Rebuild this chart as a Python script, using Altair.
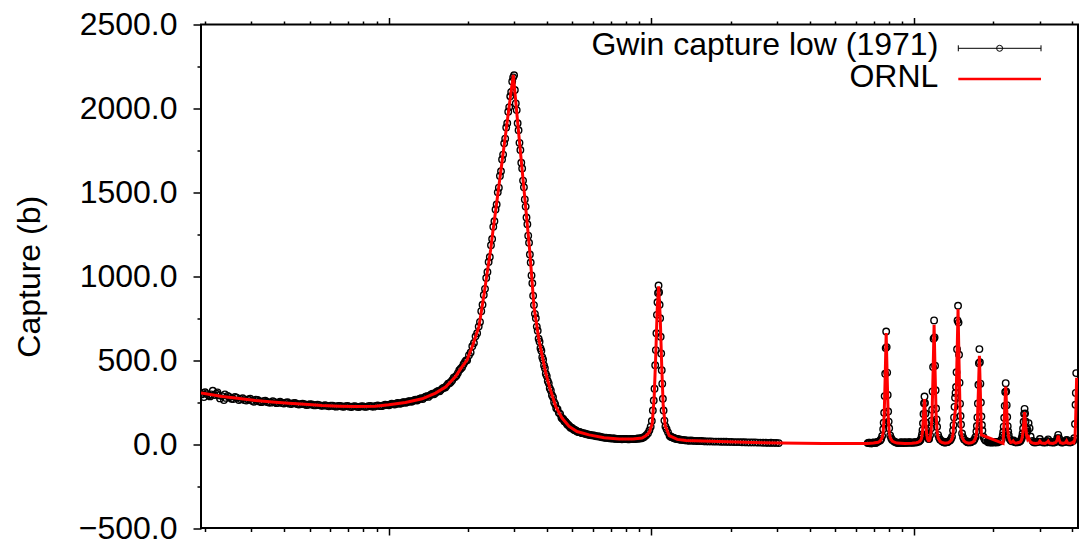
import altair as alt
import pandas as pd

# Gwin (1971) low-energy capture measurement: neutron energy (eV) and capture cross section (b)
gwin_energy = [
    0.0194, 0.0198, 0.0200, 0.0207, 0.0211, 0.0214, 0.0221, 0.0225, 0.0228, 0.0236,
    0.0240, 0.0244, 0.0252, 0.0260, 0.0269, 0.0278, 0.0287, 0.0297, 0.0307, 0.0317,
    0.0328, 0.0339, 0.0350, 0.0362, 0.0374, 0.0386, 0.0399, 0.0412, 0.0426, 0.0440,
    0.0455, 0.0470, 0.0486, 0.0502, 0.0519, 0.0536, 0.0554, 0.0573, 0.0592, 0.0612,
    0.0632, 0.0653, 0.0675, 0.0698, 0.0721, 0.0745, 0.0770, 0.0796, 0.0823, 0.0850,
    0.0879, 0.0908, 0.0938, 0.0970, 0.1002,
    0.1027, 0.1053, 0.1079, 0.1106, 0.1134, 0.1162, 0.1191, 0.1221, 0.1251, 0.1282,
    0.1314, 0.1347, 0.1381, 0.1415, 0.1451, 0.1487, 0.1524, 0.1562, 0.1601, 0.1641,
    0.1682, 0.1724, 0.1767, 0.1811, 0.1856, 0.1902, 0.1950, 0.1988,
    0.2020, 0.2050, 0.2080, 0.2110, 0.2140, 0.2170, 0.2200, 0.2225, 0.2250, 0.2275,
    0.2300, 0.2325, 0.2350, 0.2375, 0.2400, 0.2425, 0.2450, 0.2475, 0.2500, 0.2525,
    0.2550, 0.2575, 0.2600, 0.2625, 0.2650, 0.2675, 0.2700, 0.2725, 0.2750, 0.2775,
    0.2800, 0.2825, 0.2850, 0.2875, 0.2900, 0.2925, 0.2950, 0.2975, 0.3000, 0.3020,
    0.3045, 0.3070, 0.3095, 0.3120, 0.3145, 0.3170, 0.3195, 0.3220, 0.3245, 0.3270,
    0.3295, 0.3320, 0.3345, 0.3370, 0.3395, 0.3420, 0.3445, 0.3470, 0.3495, 0.3520,
    0.3545, 0.3570, 0.3600, 0.3630, 0.3660, 0.3690, 0.3720, 0.3750, 0.3780, 0.3810,
    0.3840, 0.3870, 0.3900, 0.3930, 0.3960, 0.3995, 0.4030, 0.4065, 0.4100, 0.4140,
    0.4180, 0.4220, 0.4260, 0.4300, 0.4340, 0.4390, 0.4440, 0.4490, 0.4540, 0.4600,
    0.4660, 0.4720, 0.4780, 0.4850, 0.4920, 0.5000, 0.5080, 0.5160, 0.5250, 0.5350,
    0.5450, 0.5550, 0.5660, 0.5780, 0.5900, 0.6040, 0.6180, 0.6330, 0.6480, 0.6640,
    0.6800, 0.6970, 0.7150, 0.7330, 0.7520, 0.7720, 0.7920, 0.8130, 0.8340, 0.8560,
    0.8780, 0.9000, 0.9200, 0.9400, 0.9550, 0.9700, 0.9820, 0.9930, 1.0030, 1.0120,
    1.0200, 1.0270, 1.0330, 1.0390, 1.0440, 1.0490, 1.0540, 1.0590, 1.0640, 1.0690,
    1.0740, 1.0790, 1.0840, 1.0890, 1.0940, 1.0990, 1.1050, 1.1120, 1.1200, 1.1300,
    1.1420, 1.1560, 1.1720, 1.1900, 1.2100, 1.2350, 1.2650, 1.3000, 1.3400, 1.3850,
    1.4350, 1.4900, 1.5500, 1.6150, 1.6850, 1.7600, 1.8400, 1.9250, 2.0150, 2.1100,
    2.2100, 2.3150, 2.4250, 2.5400, 2.6600, 2.7850, 2.9150, 3.0500,
    6.65, 6.77, 6.89, 7.01, 7.13, 7.21,
    7.290, 7.419, 7.484, 7.550, 7.617, 7.650, 7.684, 7.718, 7.752, 7.786,
    7.820, 7.854, 7.889, 7.924, 7.958, 7.993, 8.029, 8.100, 8.171, 8.243, 8.389,
    8.55, 8.70, 8.86, 9.02, 9.18, 9.35, 9.52, 9.69, 9.87, 10.05,
    10.198, 10.379, 10.470, 10.563, 10.656, 10.703, 10.750, 10.797, 10.844, 10.892,
    10.940, 10.988, 11.036, 11.085, 11.134, 11.183, 11.232, 11.331,
    11.389, 11.489, 11.591, 11.642, 11.693, 11.744, 11.796, 11.848, 11.900, 11.952,
    12.005, 12.058, 12.111, 12.164, 12.218, 12.325, 12.434, 12.544, 12.766,
    12.95, 13.13, 13.30,
    13.447, 13.684, 13.805, 13.926, 14.049, 14.111, 14.173, 14.236, 14.298, 14.361,
    14.424, 14.488, 14.552, 14.616, 14.680, 14.745, 14.810, 14.875, 14.940, 15.006,
    15.072, 15.205, 15.339, 15.474, 15.748,
    15.94, 16.12, 16.31,
    16.500, 16.792, 16.940, 17.089, 17.240, 17.316, 17.392, 17.468, 17.545, 17.622,
    17.700, 17.778, 17.856, 17.935, 18.013, 18.093, 18.172, 18.333, 18.495, 18.658, 18.988,
    19.22, 19.45, 19.68, 19.92, 20.16, 20.40, 20.60,
    20.778, 21.146, 21.333, 21.521, 21.711, 21.806, 21.902, 21.998, 22.095, 22.192,
    22.290, 22.388, 22.487, 22.586, 22.685, 22.785, 22.885, 23.087, 23.291, 23.496,
    23.700, 23.912, 24.200,
    24.516, 24.950, 25.170, 25.393, 25.616, 25.729, 25.842, 25.956, 26.070, 26.185,
    26.300, 26.416, 26.532, 26.649, 26.766, 26.884, 27.002, 27.240, 27.480, 27.723, 28.214,
    28.7, 29.2, 29.7, 30.07, 30.5, 31.0, 31.5, 32.0, 32.34, 32.7,
    33.2, 33.7, 34.2, 34.7, 35.0, 35.31, 35.6, 35.9, 36.4, 36.9,
    37.4, 37.8, 38.1, 38.5, 39.0, 39.5, 39.9, 40.3, 40.6, 40.9,
    41.1, 41.2, 41.35,
    # channels in between the ones above
    0.0196, 0.0203, 0.0209, 0.0217, 0.0223, 0.0232, 0.0238, 0.0248, 0.0256, 0.0264,
    0.0273, 0.0282, 0.0292, 0.0302, 0.0312, 0.0322, 0.0333, 0.0344, 0.0356, 0.0368,
    0.0380, 0.0392, 0.0405, 0.0419, 0.0433, 0.0447, 0.0462, 0.0478, 0.0494, 0.0510,
    0.0527, 0.0545, 0.0563, 0.0582, 0.0602, 0.0622, 0.0642, 0.0664, 0.0686, 0.0709,
    0.0733, 0.0757, 0.0783, 0.0809, 0.0836, 0.0864, 0.0893, 0.0923, 0.0954, 0.0986,
    0.1015, 0.1040, 0.1066, 0.1092, 0.1120, 0.1148, 0.1176, 0.1206, 0.1236, 0.1266,
    0.1298, 0.1330, 0.1364, 0.1398, 0.1433, 0.1469, 0.1505, 0.1543, 0.1581, 0.1621,
    0.1661, 0.1703, 0.1745, 0.1789, 0.1833, 0.1879, 0.1926, 0.1969,
    0.4570, 0.4630, 0.4690, 0.4750, 0.4815, 0.4885, 0.4960, 0.5040, 0.5120, 0.5205,
    0.5300, 0.5400, 0.5500, 0.5605, 0.5720, 0.5840, 0.5970, 0.6110, 0.6255, 0.6405,
    0.6560, 0.6720, 0.6885, 0.7060, 0.7240, 0.7425, 0.7620, 0.7820, 0.8025, 0.8235,
    0.8450, 0.8670, 0.8890, 0.9100, 0.9300,
    1.1830, 1.2000, 1.2225, 1.2500, 1.2825, 1.3200, 1.3625, 1.4100, 1.4625, 1.5200,
    1.5825, 1.6500, 1.7225, 1.8000, 1.8825, 1.9700, 2.0625, 2.1600, 2.2625, 2.3700,
    2.4825, 2.6000, 2.7225, 2.8500, 2.9825,
    6.71, 6.83, 6.95, 7.07, 7.17, 8.47, 8.62, 8.78, 8.94, 9.10,
    9.26, 9.43, 9.60, 9.78, 9.96, 10.12, 12.86, 13.04, 13.21, 13.37,
    15.85, 16.03, 16.21, 16.40, 19.10, 19.33, 19.56, 19.80, 20.04, 20.28,
    20.50, 20.69, 24.05, 24.36, 28.45, 28.95, 29.45, 31.25, 31.75, 33.45,
    33.95, 34.45, 36.15, 36.65, 37.15, 38.75, 39.25,
]
gwin_capture = [
    296, 280, 309, 290, 296, 318, 300, 290, 272, 262,
    275, 287, 270, 281, 262, 273, 259, 270, 252, 263,
    250, 259, 248, 255, 244, 252, 242, 249, 239, 245,
    236, 241, 233, 238, 231, 235, 228, 232, 225, 229,
    223, 228, 222, 227, 221, 226, 221, 226, 222, 228,
    223, 230, 226, 234, 231,
    240, 236, 245, 240, 250, 246, 256, 252, 262, 260,
    271, 268, 282, 281, 296, 297, 312, 315, 332, 337,
    360, 370, 396, 408, 441, 458, 490, 500,
    530, 546, 583, 602, 642, 660, 700, 728, 792, 830,
    888, 925, 990, 1025, 1085, 1115, 1185, 1222, 1295, 1328,
    1398, 1428, 1500, 1528, 1598, 1626, 1696, 1725, 1792, 1820,
    1886, 1912, 1980, 2008, 2072, 2098, 2160, 2185, 2198, 2110,
    2030, 1990, 1912, 1870, 1795, 1752, 1676, 1642, 1570, 1530,
    1458, 1415, 1350, 1310, 1242, 1200, 1130, 1082, 1005, 958,
    884, 828, 776, 750, 700, 676, 628, 610, 571, 556,
    517, 503, 468, 452, 419, 405, 376, 362, 333, 319,
    291, 279, 250, 238, 214, 208, 186, 180, 159, 152,
    136, 131, 117, 109, 98, 95, 84, 80, 72, 71,
    65, 64, 58, 56, 52, 51, 46, 45, 40, 37,
    37, 34, 33, 31, 31, 29, 31, 29, 31, 30,
    32, 33, 36, 43, 53, 65, 82, 104, 138, 200,
    260, 330, 470, 560, 660, 770, 845, 900, 945, 905,
    830, 750, 640, 540, 440, 360, 270, 200, 140, 105,
    88, 70, 50, 43, 38, 32, 29, 25, 23, 20,
    20, 18, 18, 16, 16, 15, 14, 14, 13, 12,
    11, 10, 10, 9, 8, 7, 7, 6,
    6, 9, 5, 10, 7, 12,
    15, 21, 31, 48, 88, 127, 187, 286, 419, 572,
    671, 578, 426, 293, 194, 134, 94, 51, 35, 25, 16,
    9, 6, 10, 7, 11, 8, 12, 9, 10, 11,
    11, 14, 18, 25, 41, 58, 83, 124, 179, 243,
    284, 245, 182, 127, 85, 60, 44, 32,
    30, 52, 95, 139, 205, 314, 460, 628, 737, 635,
    467, 321, 212, 147, 103, 55, 37, 26, 17,
    12, 10, 13,
    14, 22, 30, 44, 81, 113, 159, 222, 276, 305,
    340, 428, 565, 736, 824, 724, 532, 366, 241, 167,
    117, 63, 41, 28, 18,
    12, 10, 13,
    14, 19, 28, 41, 75, 108, 159, 242, 354, 482,
    566, 488, 360, 248, 164, 114, 81, 44, 30, 22, 15,
    10, 13, 9, 12, 10, 13, 11,
    12, 15, 20, 29, 51, 72, 104, 157, 228, 310,
    363, 313, 232, 161, 107, 75, 54, 31, 22, 17,
    20, 22, 12,
    10, 12, 15, 20, 32, 44, 63, 93, 133, 180,
    210, 182, 135, 95, 75, 70, 85, 125, 95, 45, 18,
    10, 12, 15, 30, 14, 9, 11, 18, 28, 15,
    10, 12, 11, 18, 35, 55, 35, 18, 10, 12,
    14, 22, 25, 14, 10, 12, 16, 20, 35, 120,
    234, 305, 423,
    # channels in between the ones above
    305, 298, 284, 292, 308, 286, 296, 280, 268, 276,
    268, 262, 266, 258, 264, 254, 256, 251, 247, 250,
    247, 245, 247, 241, 244, 239, 238, 237, 234, 236,
    231, 232, 229, 228, 229, 225, 227, 224, 226, 223,
    225, 222, 225, 222, 226, 224, 228, 227, 230, 233,
    236, 238, 239, 243, 244, 249, 250, 255, 257, 264,
    266, 273, 277, 286, 290, 300, 305, 316, 323, 336,
    348, 363, 380, 400, 423, 449, 476, 498,
    153, 146, 135, 125, 115, 105, 98, 89, 84, 77,
    72, 68, 64, 62, 58, 54, 52, 49, 46, 43,
    40, 38, 36, 34, 33, 31, 31, 30, 30, 29,
    31, 30, 33, 34, 39,
    44, 40, 35, 31, 27, 24, 22, 21, 19, 18,
    17, 16, 15, 15, 14, 13, 12, 12, 11, 10,
    10, 9, 8, 8, 7,
    8, 4, 9, 6, 10, 12, 8, 7, 11, 6,
    10, 7, 11, 8, 9, 10, 14, 9, 11, 12,
    14, 11, 12, 11, 12, 11, 12, 10, 13, 11,
    12, 10, 14, 11, 12, 10, 13, 12, 10, 11,
    9, 13, 12, 9, 13, 12, 11,
]

# ORNL evaluated capture cross section
ornl_energy = [
    0.0193, 0.0233, 0.0275, 0.0311, 0.0360, 0.0416, 0.0480, 0.0557, 0.0650, 0.0746,
    0.0890, 0.1000, 0.1158, 0.1340, 0.1507, 0.1645, 0.1796, 0.1903, 0.1988, 0.2090,
    0.2203, 0.2242, 0.2302, 0.2363, 0.2443, 0.2490, 0.2558, 0.2627, 0.2697, 0.2769,
    0.2842, 0.2918, 0.2981, 0.3049, 0.3130, 0.3214, 0.3300, 0.3388, 0.3437, 0.3508,
    0.3570, 0.3649, 0.3730, 0.3832, 0.3960, 0.4110, 0.4320, 0.4566, 0.4860, 0.5208,
    0.5790, 0.6602, 0.7530, 0.8500, 0.9200, 0.9520, 0.9800, 1.0060, 1.0240, 1.0376,
    1.0513, 1.0646, 1.0794, 1.0937, 1.1080, 1.1277, 1.1683, 1.2532, 1.3520, 1.8100,
    2.4300, 3.0700, 4.5000, 6.0000, 6.6400, 7.0000,
    7.290, 7.419, 7.550, 7.617, 7.684, 7.752, 7.820, 7.889, 7.958, 8.029,
    8.100, 8.243, 8.389, 8.600, 9.200, 9.800,
    10.198, 10.379, 10.563, 10.656, 10.750, 10.844, 10.940, 11.036, 11.134, 11.232,
    11.331, 11.389, 11.489, 11.591, 11.693, 11.796, 11.900, 12.005, 12.111, 12.218,
    12.325, 12.544, 12.766, 13.100,
    13.447, 13.684, 13.926, 14.049, 14.173, 14.298, 14.424, 14.552, 14.680, 14.810,
    14.940, 15.072, 15.205, 15.474, 15.748, 16.100,
    16.500, 16.792, 17.089, 17.240, 17.392, 17.545, 17.700, 17.856, 18.013,
    21.780, 21.902, 22.095, 22.290, 22.487, 22.685, 22.885, 23.087, 23.291, 23.550,
    23.780, 24.000, 24.300,
    24.516, 24.950, 25.393, 25.616, 25.842, 26.070, 26.300, 26.532, 26.766, 27.002,
    27.240, 27.480, 27.723, 28.214,
    29.00, 29.70, 30.07, 30.50, 31.50, 32.00, 32.34, 32.70, 33.80, 34.60,
    35.00, 35.31, 35.60, 36.00, 36.80, 37.60, 38.00, 38.40, 39.30, 39.90,
    40.20, 40.50, 40.90, 41.15, 41.50,
]
ornl_capture = [
    304, 284, 270, 260, 251, 244, 237, 230, 226, 224,
    226, 234, 248, 270, 304, 340, 403, 462, 502, 590,
    700, 770, 885, 1008, 1158, 1264, 1402, 1540, 1678, 1816,
    1954, 2093, 2200, 2028, 1837, 1646, 1455, 1264, 1158, 980,
    820, 720, 622, 530, 423, 330, 224, 155, 105, 75,
    55, 38, 30, 30, 36, 50, 68, 120, 280, 520,
    800, 940, 760, 470, 230, 110, 50, 28, 21, 15,
    10, 6, 4, 4, 4, 6,
    11, 18, 38, 71, 169, 399, 661, 399, 169, 71,
    38, 18, 11, 6, 4, 5,
    8, 12, 20, 32, 70, 165, 268, 165, 70, 30,
    20, 20, 32, 75, 180, 430, 711, 430, 180, 75,
    38, 16, 9, 5,
    8, 15, 30, 60, 140, 185, 250, 520, 804, 480,
    200, 80, 40, 18, 10, 5,
    8, 14, 31, 58, 136, 318, 526, 300, 55,
    4, 86, 206, 343, 206, 86, 40, 20, 10, 12,
    18, 10, 5,
    6, 9, 14, 25, 50, 115, 191, 115, 50, 30,
    40, 22, 12, 6,
    4, 6, 18, 6, 4, 10, 18, 6, 4, 10,
    25, 50, 25, 8, 4, 8, 20, 6, 4, 8,
    12, 8, 30, 150, 395,
]

assert len(gwin_energy) == len(gwin_capture)
assert len(ornl_energy) == len(ornl_capture)

# Tick positions
x_major = [0.1, 1, 10]
x_minor = [0.02, 0.03, 0.04, 0.05, 0.06, 0.07, 0.08, 0.09,
           0.2, 0.3, 0.4, 0.5, 0.6, 0.7, 0.8, 0.9,
           2, 3, 4, 5, 6, 7, 8, 9, 20, 30, 40]
y_major = [-500, 0, 500, 1000, 1500, 2000, 2500]
y_minor = [-250, 250, 750, 1250, 1750, 2250]

legend_labels = ["Gwin capture low (1971)", "ORNL"]

FONT = "Liberation Sans"
W, H = 877, 503.5

gwin = pd.DataFrame({"energy": gwin_energy, "capture": gwin_capture})
ornl = pd.DataFrame({"energy": ornl_energy, "capture": ornl_capture})

x_scale = alt.Scale(type="log", domain=[0.0193, 42], nice=False)
y_scale = alt.Scale(domain=[-500, 2500], nice=False, zero=False)


def x_ticks(orient, values, size):
    return alt.Axis(orient=orient, values=values, tickSize=size, tickWidth=1.5,
                    tickColor="black", labels=False, domain=False, grid=False,
                    title=None)


points = alt.Chart(gwin).mark_point(
    shape="circle", filled=False, size=42, color="black", strokeWidth=1.4,
    opacity=1, clip=True
).encode(
    x=alt.X("energy:Q", scale=x_scale, axis=x_ticks("bottom", x_major, 7)),
    y=alt.Y("capture:Q", scale=y_scale, axis=alt.Axis(
        orient="left", values=y_major, format=".1f", tickSize=8, tickWidth=1.5,
        tickColor="black", labelFont=FONT, labelFontSize=32, labelColor="black",
        labelPadding=16, labelFlush=False, labelOverlap=False, domain=False,
        grid=False, title="Capture (b)", titleFont=FONT, titleFontSize=32,
        titleFontWeight="normal", titleColor="black", titlePadding=32)),
)

line = alt.Chart(ornl).mark_line(color="#ff0000", strokeWidth=3, clip=True).encode(
    x=alt.X("energy:Q", scale=x_scale, axis=x_ticks("bottom", x_minor, 3.5)),
    y=alt.Y("capture:Q", scale=y_scale, axis=alt.Axis(
        orient="left", values=y_minor, tickSize=4, tickWidth=1.5, tickColor="black",
        labels=False, domain=False, grid=False, title=None)),
)

top_major = alt.Chart(pd.DataFrame({"energy": x_major})).mark_point(opacity=0).encode(
    x=alt.X("energy:Q", scale=x_scale, axis=x_ticks("top", x_major, 7)))
top_minor = alt.Chart(pd.DataFrame({"energy": x_minor})).mark_point(opacity=0).encode(
    x=alt.X("energy:Q", scale=x_scale, axis=x_ticks("top", x_minor, 3.5)))

# Key in the upper right corner: label on the left, sample on the right
key1 = pd.DataFrame({"label": [legend_labels[0]]})
key2 = pd.DataFrame({"label": [legend_labels[1]]})
KX0, KX1, KXC = 757.3, 840, 798.6
KY1, KY2 = 23.8, 54.5

key_text1 = alt.Chart(key1).mark_text(
    align="right", baseline="alphabetic", font=FONT, fontSize=32, color="black"
).encode(text="label:N", x=alt.value(737.3), y=alt.value(30.8))
key_text2 = alt.Chart(key2).mark_text(
    align="right", baseline="alphabetic", font=FONT, fontSize=32, color="black"
).encode(text="label:N", x=alt.value(737.3), y=alt.value(62.8))
key_bar = alt.Chart(key1).mark_rule(color="black", strokeWidth=1).encode(
    x=alt.value(KX0), x2=alt.value(KX1), y=alt.value(KY1))
key_cap_l = alt.Chart(key1).mark_rule(color="black", strokeWidth=1).encode(
    x=alt.value(KX0), y=alt.value(KY1 - 3), y2=alt.value(KY1 + 3))
key_cap_r = alt.Chart(key1).mark_rule(color="black", strokeWidth=1).encode(
    x=alt.value(KX1), y=alt.value(KY1 - 3), y2=alt.value(KY1 + 3))
key_dot = alt.Chart(key1).mark_point(
    shape="circle", filled=False, size=36, color="black", strokeWidth=1, opacity=1
).encode(x=alt.value(KXC), y=alt.value(KY1))
key_line = alt.Chart(key2).mark_rule(color="#ff0000", strokeWidth=2.5).encode(
    x=alt.value(KX0), x2=alt.value(KX1), y=alt.value(KY2))

chart = alt.layer(
    points, line, top_major, top_minor,
    key_text1, key_text2, key_bar, key_cap_l, key_cap_r, key_dot, key_line,
).resolve_scale(
    x="shared", y="shared"
).resolve_axis(
    x="independent", y="independent"
).properties(
    width=W, height=H,
    padding={"left": 201, "top": 24.5, "right": 1, "bottom": 12},
    autosize=alt.AutoSizeParams(type="none"),
).configure_view(
    stroke="black", strokeWidth=2
)

chart.save("out.html", embed_options={"renderer": "svg", "actions": False})
